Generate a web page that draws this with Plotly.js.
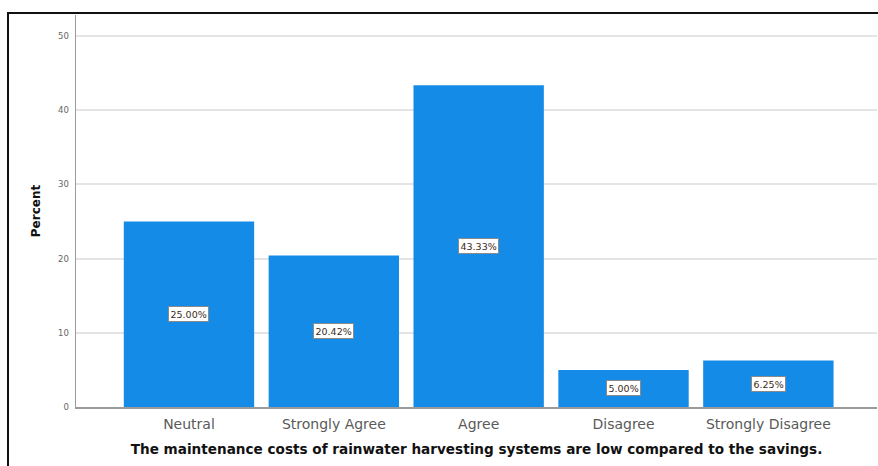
<!DOCTYPE html>
<html>
<head>
<meta charset="utf-8">
<script src="https://cdn.plot.ly/plotly-3.0.1.min.js"></script>
<style>
  html, body { margin: 0; padding: 0; background: #fff; }
  #wrap { position: relative; width: 878px; height: 466px; overflow: hidden; }
  #chart { position: absolute; left: 0; top: 0; width: 878px; height: 466px; }
  #frame { position: absolute; left: 7px; top: 12px; width: 900px; height: 500px;
           border: 2px solid #111; box-sizing: border-box; pointer-events: none; }
</style>
</head>
<body>
<div id="wrap">
  <div id="chart"></div>
  <div id="frame"></div>
</div>
<script>
const categories = ["Neutral", "Strongly Agree", "Agree", "Disagree", "Strongly Disagree"];
const percents = [25.00, 20.42, 43.33, 5.00, 6.25];
const yTicks = [0, 10, 20, 30, 40, 50];
const xTitle = "The maintenance costs of rainwater harvesting systems are low compared to the savings.";
const yTitle = "Percent";

const barColor = "#148be6";

const trace = {
  type: "bar",
  x: categories,
  y: percents,
  marker: { color: barColor, line: { width: 0 } },
  hoverinfo: "x+y"
};

const annotations = categories.map((c, i) => ({
  x: c,
  y: percents[i] / 2,
  xref: "x",
  yref: "y",
  text: percents[i].toFixed(2) + "%",
  showarrow: false,
  bgcolor: "#ffffff",
  bordercolor: "#8a8a8a",
  borderwidth: 1,
  borderpad: 1.5,
  font: { family: "DejaVu Sans", size: 9.5, color: "#3b2b22" }
}));

const layout = {
  width: 878,
  height: 466,
  margin: { l: 76, r: 1, t: 15, b: 59 },
  paper_bgcolor: "#ffffff",
  plot_bgcolor: "#ffffff",
  bargap: 0.1,
  showlegend: false,
  xaxis: {
    type: "category",
    range: [-0.78, 4.75],
    showgrid: false,
    zeroline: false,
    showline: true,
    linecolor: "#9a9a9a",
    linewidth: 1.5,
    ticks: "",
    ticklabelstandoff: 4,
    tickfont: { family: "DejaVu Sans", size: 14, color: "#5a5a5a" },
    title: {
      text: xTitle,
      font: { family: "DejaVu Sans", size: 13.6, color: "#111111", weight: "bold" },
      standoff: 13
    },
    automargin: false
  },
  yaxis: {
    range: [0, 52.8],
    tickvals: yTicks,
    ticktext: yTicks.map(String),
    showgrid: true,
    gridcolor: "#e4e4e4",
    gridwidth: 2,
    zeroline: false,
    showline: true,
    linecolor: "#9a9a9a",
    linewidth: 1.5,
    ticks: "",
    tickfont: { family: "DejaVu Sans", size: 8.5, color: "#666666" },
    ticklabelstandoff: 4,
    title: {
      text: yTitle,
      font: { family: "DejaVu Sans", size: 12, color: "#111111", weight: "bold" },
      standoff: 15
    },
    automargin: false
  },
  annotations: annotations
};

Plotly.newPlot("chart", [trace], layout, { displayModeBar: false, staticPlot: true });
</script>
</body>
</html>
